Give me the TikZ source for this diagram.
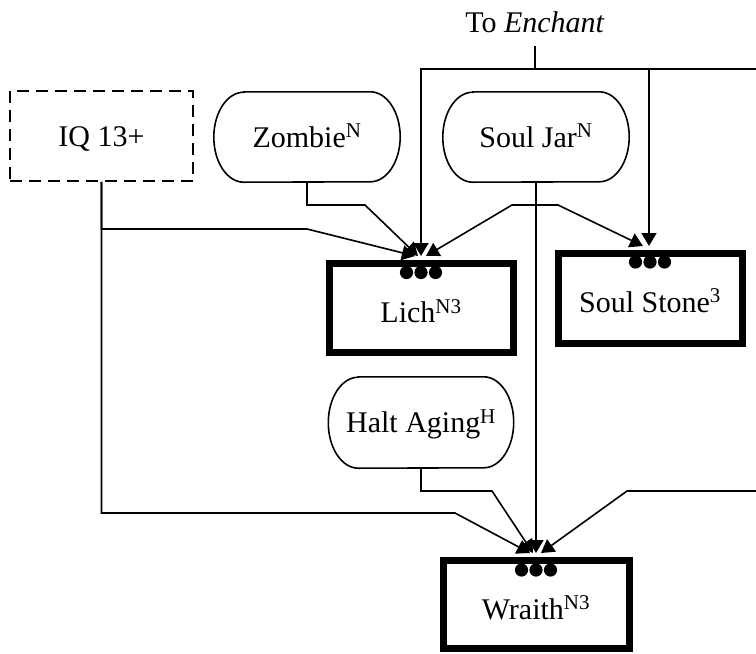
\documentclass[tikz,border=0pt]{standalone}
\usepackage{fontspec}
\setmainfont{Liberation Serif}
\usetikzlibrary{arrows.meta}
\begin{document}
\begin{tikzpicture}[x=1pt,y=-1pt,
  every node/.style={font=\fontsize{30}{36}\selectfont, inner sep=0pt, text height=20pt, text depth=0pt},
  conn/.style={line width=1.6pt},
  arr/.style={conn,-{Triangle[length=13pt,width=15pt]}},
  spell/.style={draw,line width=7pt, minimum width=184pt, minimum height=89pt},
  pillnode/.style={minimum width=186pt, minimum height=90pt},
  req/.style={draw, line width=1.6pt, dash pattern=on 12pt off 7pt, minimum width=183pt, minimum height=90pt}
]
\useasboundingbox (0,0) rectangle (756,654);

% prerequisite nodes
\node[req] (iq) at (101.5,136) {IQ 13+};
\node[pillnode] (zombie) at (307,137) {Zombie\textsuperscript{N}};
\node[pillnode] (souljar) at (536,137) {Soul Jar\textsuperscript{N}};
\node[pillnode, minimum width=185pt, minimum height=91pt] (halt) at (421,422.5) {Halt Aging\textsuperscript{H}};

% spell boxes
\node[spell] (lich) at (421,307.5) {};
\node (licht) at (421,312.5) {Lich\textsuperscript{N3}};
\node[spell, minimum height=90pt] (soulstone) at (650,298) {};
\node (soulstonet) at (650,302) {Soul Stone\textsuperscript{3}};
\node[spell, minimum width=186pt, minimum height=88pt] (wraith) at (536,604) {};
\node (wraitht) at (536,609) {Wraith\textsuperscript{N3}};

\node (enchant) at (535,22) {To \textit{Enchant}};

% pill outlines
\foreach \n/\r in {zombie/45, souljar/45, halt/45.5}
  \draw[conn] ([xshift=30pt]\n.north west) -- ([xshift=-30pt]\n.north east)
    arc[start angle=90,end angle=-90,x radius=30pt,y radius=\r pt]
    -- ([xshift=30pt]\n.south west)
    arc[start angle=270,end angle=90,x radius=30pt,y radius=\r pt] -- cycle;

% dots
\foreach \n/\d in {lich/13, soulstone/12.5, wraith/13.5}
  \foreach \dx in {-14.5,0,14.5}
    \fill ([xshift=\dx pt, yshift=-\d pt]\n.north) circle[radius=6.6pt];

% connectors
\coordinate (tick) at (535,46);
\coordinate (busR) at (756,69);
\coordinate (wraithfeed) at (756,491);

\draw[conn] (tick) -- (535,69);
\draw[arr] (535,69) -| ([yshift=3.5pt]lich.north);
\draw[arr] (535,69) -| ([xshift=-1pt,yshift=3.5pt]soulstone.north);
\draw[conn] (535,69) -- (busR);

\draw[arr] (iq.south) -- (101.5,229) -- (307,229) -- ([xshift=-6pt,yshift=3.5pt]lich.north);
\draw[arr] (iq.south) -- (101.5,513) -- (455,513) -- ([xshift=-6pt,yshift=3.5pt]wraith.north);
\draw[arr] (zombie.south) -- (307,205) -- (365,205) -- ([xshift=-3pt,yshift=3.5pt]lich.north);
\draw[arr] (souljar.south) -- (536,205) -- (512,205) -- ([xshift=5pt,yshift=3.5pt]lich.north);
\draw[arr] (souljar.south) |- (558,205) -- ([xshift=-7pt,yshift=3.5pt]soulstone.north);
\draw[arr] (souljar.south) -- ([yshift=3.5pt]wraith.north);
\draw[arr] (halt.south) -- (421,491) -- (492,491) -- ([xshift=-3pt,yshift=3.5pt]wraith.north);
\draw[arr] (wraithfeed) -- (627,491) -- ([xshift=5pt,yshift=3.5pt]wraith.north);
\end{tikzpicture}
\end{document}
